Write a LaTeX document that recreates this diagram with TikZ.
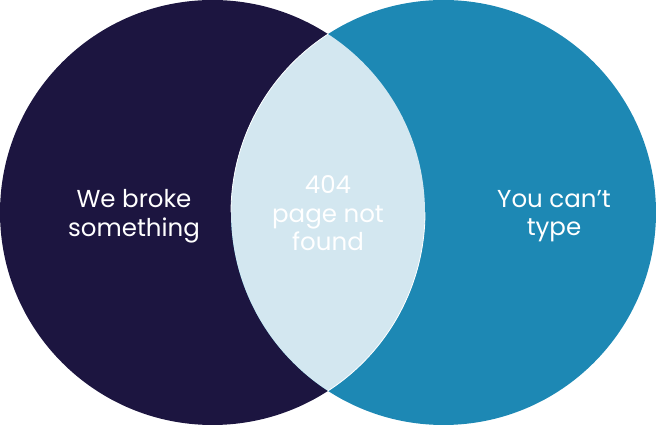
\documentclass[tikz,border=0pt]{standalone}
\usepackage{fontspec}
\setmainfont{Poppins}

\definecolor{navy}{HTML}{1C1540}
\definecolor{ocean}{HTML}{1D88B4}
\definecolor{mist}{HTML}{D3E7F0}

\tikzset{
    venntext/.style={text=white, align=center, font=\fontsize{24.5}{28.5}\selectfont}
}

\begin{document}
\begin{tikzpicture}[x=1pt, y=1pt]
    % Khung hình
    \useasboundingbox (0, 0) rectangle (656, 425);

    % 1. Hai hình tròn
    \fill[navy] (212.5, 212.5) circle (212.5);
    \fill[ocean] (443.5, 212.5) circle (212.5);

    % 2. Phần giao (thấu kính)
    \begin{scope}
        \clip (212.5, 212.5) circle (212.5);
        \fill[mist] (443.5, 212.5) circle (212.5);
    \end{scope}

    % 3. Viền trắng mảnh của phần giao
    \draw[white, line width=0.8pt] (443.5, 212.5) ++(122.9:212.5) arc [start angle=122.9, end angle=180, radius=212.5];
    \draw[white, line width=0.8pt] (212.5, 212.5) ++(0:212.5) arc [start angle=0, end angle=-57.1, radius=212.5];

    % 4. Nhãn
    \node[venntext] (broke) at (134, 209) {We broke\\something};
    \node[venntext] (notfound) at (328, 211.5) {404\\page not\\found};
    \node[venntext] (type) at (554, 209) {You can’t\\type};

\end{tikzpicture}
\end{document}
